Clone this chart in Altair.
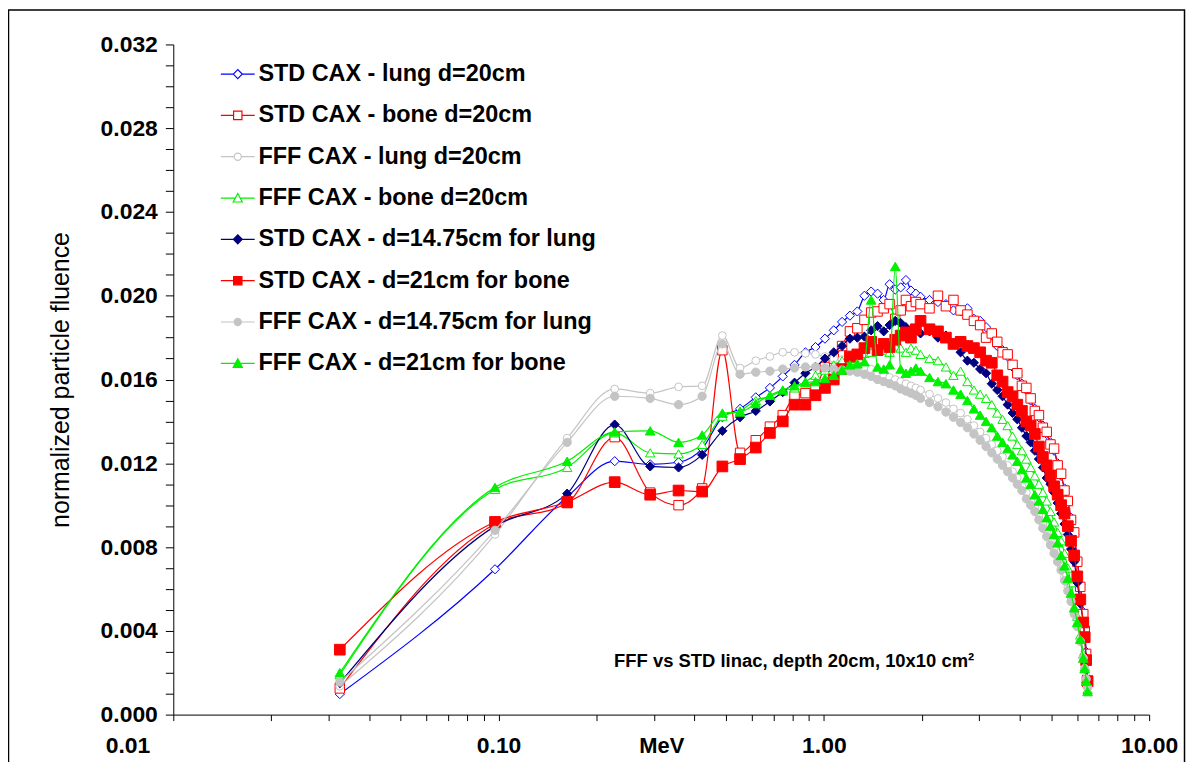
import altair as alt
import pandas as pd

FONT = "Liberation Sans"

# Energy bin centres (MeV)
ENERGY_MEV = [0.0325, 0.0975, 0.1625, 0.2275, 0.2925, 0.3575, 0.4225, 0.4875, 0.5525, 0.6175,
              0.6825, 0.7475, 0.8125, 0.8775, 0.9425, 1.0075, 1.0725, 1.1375, 1.2025, 1.2675,
              1.3325, 1.3975, 1.4625, 1.5275, 1.5925, 1.6575, 1.7225, 1.7875, 1.8525, 1.9175,
              1.9825, 2.1125, 2.2425, 2.3725, 2.5025, 2.6325, 2.7625, 2.8925, 3.0225, 3.1525,
              3.2825, 3.4125, 3.5425, 3.6725, 3.8025, 3.9325, 4.0625, 4.1925, 4.3225, 4.4525,
              4.5825, 4.7125, 4.8425, 4.9725, 5.1025, 5.2325, 5.3625, 5.4925, 5.6225, 5.7525,
              5.8825, 6.0125, 6.1425, 6.2725, 6.3375, 6.4025, 6.4675]

# normalized particle fluence, in units of 1e-3
STD_LUNG_20 = [0.98, 6.94, 10.4, 12.1, 11.95, 12.05, 12.7, 14.2, 14.6, 15.15, 15.6, 16.15,
               16.7, 17.3, 17.55, 17.95, 18.35, 18.75, 19.05, 19.25, 20.0, 20.2, 20.1, 19.8, 20.55,
               20.3, 20.4, 20.75, 20.25, 20.1, 19.95,
               19.8, 19.7, 19.6, 19.3, 19.25, 19.4, 18.9, 18.8, 18.5, 18.1, 17.6, 17.4, 17.1, 16.6,
               16.2, 15.8, 15.5, 15.0, 14.6, 14.2, 13.8, 13.4, 13.0, 12.6, 12.0, 11.4, 10.8, 10.1,
               9.4, 8.6, 7.4, 6.2, 4.9, 4.1, 3.0, 1.6]
STD_BONE_20 = [1.25, 9.1, 10.1, 13.25, 10.6, 10.0, 10.8, 17.4, 12.5, 13.1, 13.75, 14.3,
               15.2, 15.35, 15.6, 16.6, 17.0, 17.6, 18.3, 18.45, 18.85, 19.2, 19.25, 19.4, 19.6,
               18.9, 19.3, 19.8, 19.5, 19.7, 19.6,
               19.4, 20.0, 19.5, 19.8, 19.3, 19.1, 18.8, 18.6, 18.0, 18.2, 17.8, 17.3, 17.2, 16.7,
               16.3, 15.7, 15.6, 15.1, 14.5, 14.3, 13.7, 13.5, 12.9, 12.7, 11.9, 11.5, 10.7, 10.2,
               9.3, 8.7, 7.3, 6.1, 4.8, 4.0, 2.9, 1.6]
FFF_LUNG_20 = [1.35, 8.6, 13.2, 15.55, 15.35, 15.65, 15.7, 18.1, 16.55, 16.9, 17.1, 17.3,
               17.3, 17.25, 17.2, 17.1, 17.0, 16.95, 16.8, 16.7, 16.6, 16.5, 16.3, 16.2, 16.1,
               16.0, 15.9, 15.8, 15.7, 15.6, 15.5,
               15.3, 15.1, 14.9, 14.6, 14.4, 14.1, 13.8, 13.5, 13.2, 12.9, 12.6, 12.3, 11.9, 11.6,
               11.3, 10.9, 10.6, 10.2, 9.9, 9.5, 9.1, 8.7, 8.3, 7.9, 7.5, 7.1, 6.6, 6.1,
               5.6, 5.0, 4.3, 3.6, 2.8, 2.3, 1.8, 1.3]
FFF_BONE_20 = [1.9, 10.75, 11.8, 13.45, 12.5, 12.45, 12.9, 14.25, 14.5, 15.0, 15.2, 15.45,
               15.6, 15.9, 16.2, 16.45, 16.7, 16.9, 17.0, 17.2, 17.25, 17.3, 17.5, 17.4, 17.3,
               17.6, 17.5, 17.3, 17.5, 17.4, 17.2,
               17.0, 16.9, 16.6, 16.2, 16.4, 15.9, 15.5, 15.3, 15.1, 14.8, 14.4, 14.1, 13.8, 13.3,
               12.9, 12.6, 12.2, 11.8, 11.4, 11.0, 10.6, 10.2, 9.7, 9.2, 8.7, 8.3, 7.7, 7.0,
               6.3, 5.5, 4.7, 3.8, 2.9, 2.3, 1.7, 1.2]
STD_LUNG_1475 = [1.5, 9.0, 10.55, 13.85, 11.85, 11.8, 12.4, 13.55, 14.2, 14.5, 14.95, 15.4,
                 15.85, 16.3, 16.6, 17.0, 17.3, 17.6, 17.95, 18.0, 18.05, 18.35, 18.55, 18.3, 18.6,
                 18.8, 18.7, 18.5, 18.3, 18.4, 18.2,
                 18.3, 18.0, 18.1, 17.7, 17.3, 16.9, 16.8, 16.5, 16.3, 15.8, 15.5, 15.2, 14.8, 14.4,
                 14.1, 13.7, 13.3, 13.0, 12.6, 12.2, 11.8, 11.3, 11.0, 10.6, 10.1, 9.6, 9.1, 8.6,
                 7.9, 7.3, 6.3, 5.3, 4.4, 3.7, 2.7, 1.5]
STD_BONE_21 = [3.1, 9.2, 10.15, 11.1, 10.5, 10.7, 10.65, 11.85, 12.2, 12.75, 13.45, 14.0,
               14.8, 14.8, 15.25, 15.6, 16.0, 16.5, 17.1, 17.2, 17.5, 17.8, 17.4, 17.7, 17.55,
               17.9, 18.1, 18.25, 18.0, 18.4, 18.8,
               18.4, 18.3, 18.0, 17.7, 17.8, 17.6, 17.5, 17.3, 16.9, 16.8, 16.2, 15.9, 15.4, 15.2,
               14.8, 14.5, 14.0, 13.8, 13.4, 12.8, 12.3, 11.9, 11.4, 10.9, 10.5, 10.0, 9.6, 9.0,
               8.3, 7.6, 6.6, 5.5, 4.4, 3.7, 2.6, 1.6]
FFF_LUNG_1475 = [1.55, 8.8, 13.0, 15.2, 15.1, 14.8, 15.2, 17.7, 16.25, 16.35, 16.4, 16.5,
                 16.55, 16.6, 16.6, 16.55, 16.5, 16.45, 16.4, 16.35, 16.25, 16.15, 16.0, 15.9, 15.8,
                 15.7, 15.55, 15.45, 15.35, 15.25, 15.1,
                 14.9, 14.7, 14.45, 14.2, 13.95, 13.7, 13.4, 13.1, 12.8, 12.5, 12.2, 11.9, 11.6, 11.3,
                 11.0, 10.7, 10.3, 10.0, 9.7, 9.3, 8.9, 8.5, 8.1, 7.7, 7.3, 6.9, 6.4, 5.9,
                 5.4, 4.8, 4.2, 3.5, 2.7, 2.2, 1.7, 1.3]
FFF_BONE_21 = [2.0, 10.85, 12.1, 13.5, 13.55, 13.0, 13.35, 14.4, 14.45, 14.85, 15.25, 15.5,
               15.7, 15.85, 15.9, 16.05, 16.2, 16.45, 16.7, 16.75, 16.85, 19.8, 16.6, 16.5, 16.7,
               21.4, 16.5, 16.3, 16.4, 16.55, 16.4,
               16.1, 15.9, 15.8, 15.5, 15.3, 15.0, 14.6, 14.3, 14.0, 13.7, 13.3, 13.0, 12.7, 12.4,
               12.1, 11.7, 11.3, 11.0, 10.5, 10.2, 9.8, 9.4, 9.0, 8.6, 8.2, 7.6, 7.1, 6.5,
               5.8, 5.1, 4.4, 3.6, 2.7, 2.2, 1.6, 1.1]

SERIES_NAMES = ["STD CAX - lung d=20cm", "STD CAX - bone d=20cm", "FFF CAX - lung d=20cm",
                "FFF CAX - bone d=20cm", "STD CAX - d=14.75cm for lung", "STD CAX - d=21cm for bone",
                "FFF CAX - d=14.75cm for lung", "FFF CAX - d=21cm for bone"]
SERIES_VALUES = [STD_LUNG_20, STD_BONE_20, FFF_LUNG_20, FFF_BONE_20,
                 STD_LUNG_1475, STD_BONE_21, FFF_LUNG_1475, FFF_BONE_21]

LINE_COLORS = ["#0000ff", "#ff0000", "#c4c4c4", "#00f000", "#000080", "#ff0000", "#c4c4c4", "#00f000"]
FILL_COLORS = ["#ffffff", "#ffffff", "#ffffff", "#ffffff", "#000080", "#ff0000", "#c4c4c4", "#00f000"]
SHAPES = ["diamond", "square", "circle", "triangle-up", "diamond", "square", "circle", "triangle-up"]
SIZES = [85, 90, 60, 90, 85, 115, 70, 95]

LEGEND_PATHS = [
    "M-1.7,0H-0.45M0.45,0H1.7M-0.45,0L0,-0.45L0.45,0L0,0.45Z",
    "M-1.7,0H-0.42M0.42,0H1.7M-0.42,-0.42H0.42V0.42H-0.42Z",
    "M-1.7,0H-0.36M0.36,0H1.7M-0.36,0A0.36,0.36 0 1,0 0.36,0A0.36,0.36 0 1,0 -0.36,0Z",
    "M-1.7,0H-0.24M0.24,0H1.7M0,-0.45L0.46,0.4H-0.46Z",
    "M-1.7,0H-0.45M0.45,0H1.7M-0.45,0L0,-0.45L0.45,0L0,0.45Z",
    "M-1.7,0H-0.42M0.42,0H1.7M-0.42,-0.42H0.42V0.42H-0.42Z",
    "M-1.7,0H-0.36M0.36,0H1.7M-0.36,0A0.36,0.36 0 1,0 0.36,0A0.36,0.36 0 1,0 -0.36,0Z",
    "M-1.7,0H-0.24M0.24,0H1.7M0,-0.45L0.46,0.4H-0.46Z",
]

X_TICKS = [0.01, 0.02, 0.03, 0.04, 0.05, 0.06, 0.07, 0.08, 0.09,
           0.1, 0.2, 0.3, 0.4, 0.5, 0.6, 0.7, 0.8, 0.9,
           1, 2, 3, 4, 5, 6, 7, 8, 9, 10]
Y_TICKS = list(range(0, 33))  # in 1e-3 units; labelled every 4

ANNOT_X = [0.2265]
ANNOT_Y = [2.57]
ANNOT_TEXT = ["FFF vs STD linac, depth 20cm, 10x10 cm\u00b2"]

rows = []
for name, vals in zip(SERIES_NAMES, SERIES_VALUES):
    for e, v in zip(ENERGY_MEV, vals):
        rows.append({"series": name, "E": e, "F": v})
df = pd.DataFrame(rows)
annot_df = pd.DataFrame({"E": ANNOT_X, "F": ANNOT_Y, "label": ANNOT_TEXT})

x_axis = alt.Axis(
    values=X_TICKS,
    labelExpr="(datum.value == 0.01 || datum.value == 0.1 || datum.value == 1 || datum.value == 10) ? format(datum.value, '.2f') : ''",
    title="MeV", grid=False, labelOverlap=False, labelFlush=False,
    labelFont=FONT, labelFontSize=23, labelFontWeight="bold", labelColor="black",
    labelPadding=14, tickSize=6, tickColor="black", domainColor="black", tickWidth=1, domainWidth=1,
    labelOffset={"condition": {"test": "datum.value == 0.01", "value": -46}, "value": 0},
    titleFont=FONT, titleFontSize=22, titleFontWeight="bold", titleColor="black",
    titleY=38, titleBaseline="alphabetic",
)
y_axis = alt.Axis(
    values=Y_TICKS,
    labelExpr="(datum.value % 4 == 0) ? format(datum.value / 1000, '.3f') : ''",
    title="normalized particle fluence", grid=False, labelOverlap=False, labelFlush=False,
    labelFont=FONT, labelFontSize=23, labelFontWeight="bold", labelColor="black",
    labelPadding=8, tickSize=8, tickColor="black", domainColor="black", tickWidth=1, domainWidth=1,
    titleFont=FONT, titleFontSize=25, titleFontWeight="normal", titleColor="black",
    titleX=-100, titleY=336.5, titleAngle=270, titleAlign="center", titleBaseline="bottom",
)

x_enc = alt.X("E:Q", scale=alt.Scale(type="log", domain=[0.01, 10], nice=False), axis=x_axis)
y_enc = alt.Y("F:Q", scale=alt.Scale(domain=[0, 32], nice=False, zero=True), axis=y_axis)

frame = alt.Chart(annot_df).mark_rect(fillOpacity=0, stroke="black", strokeWidth=1.5).encode(
    x=alt.value(-165.5), x2=alt.value(1015.5), y=alt.value(-34.5), y2=alt.value(800)
)

layers = [frame]
for i, name in enumerate(SERIES_NAMES):
    base = alt.Chart(df).transform_filter(alt.datum.series == name).encode(x=x_enc, y=y_enc)
    layers.append(base.mark_line(color=LINE_COLORS[i], strokeWidth=1.2, interpolate="monotone"))
    layers.append(base.mark_point(shape=SHAPES[i], filled=True, fill=FILL_COLORS[i],
                                  stroke=LINE_COLORS[i], strokeWidth=1, size=SIZES[i], opacity=1))

LEG = alt.Legend(
    title=None, orient="none", legendX=53, legendY=18, direction="vertical",
    labelFont=FONT, labelFontSize=23.5, labelFontWeight="bold", labelColor="black",
    labelLimit=600, labelOffset=9, symbolSize=400, symbolStrokeWidth=1.2,
    rowPadding=16.5, padding=0,
)
legend_layer = alt.Chart(df).transform_filter("false").mark_point(opacity=1, filled=True).encode(
    stroke=alt.Stroke("series:N", scale=alt.Scale(domain=SERIES_NAMES, range=LINE_COLORS), legend=LEG),
    fill=alt.Fill("series:N", scale=alt.Scale(domain=SERIES_NAMES, range=FILL_COLORS), legend=LEG),
    shape=alt.Shape("series:N", scale=alt.Scale(domain=SERIES_NAMES, range=LEGEND_PATHS), legend=LEG),
)
layers.append(legend_layer)

annot = alt.Chart(annot_df).mark_text(
    align="left", baseline="middle", font=FONT, fontSize=18.5, fontWeight="bold", color="black"
).encode(x=x_enc, y=y_enc, text="label:N")
layers.append(annot)

chart = alt.layer(*layers).properties(
    width=980, height=673,
    autosize=alt.AutoSizeParams(type="none"),
    padding={"left": 166, "top": 35, "right": 37, "bottom": 46},
    background="white",
).configure_view(stroke=None)

chart.save("out.html", embed_options={"renderer": "svg", "actions": False})
